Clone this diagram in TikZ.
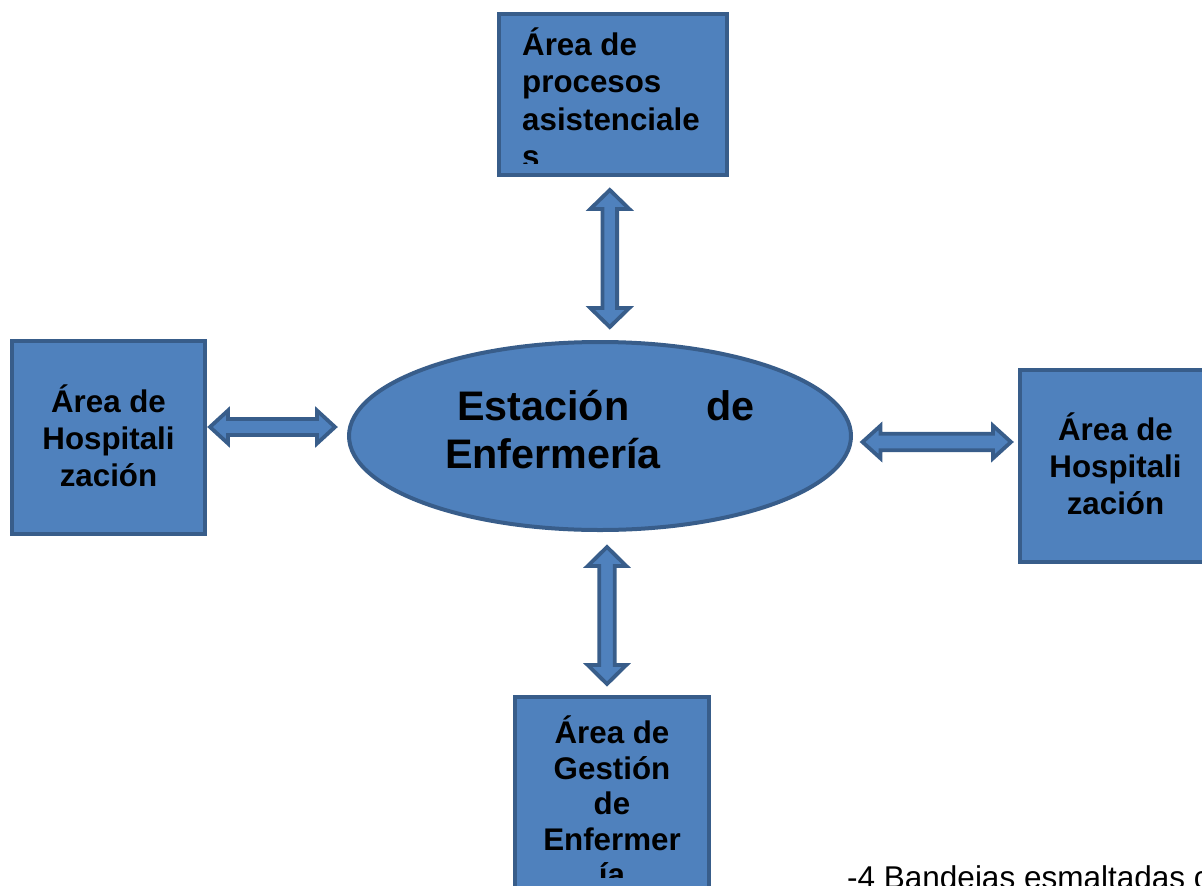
\documentclass[tikz,border=0pt]{standalone}
\usepackage{fontspec}
\setmainfont{Liberation Sans}
\usetikzlibrary{shapes.geometric,calc}
\definecolor{boxfill}{HTML}{4F81BD}
\definecolor{boxline}{HTML}{385D8A}
\newcommand\mylines[2]{\vtop{\baselineskip=#1\lineskiplimit=-100pt\lineskip=0pt\halign{\hfil##\hfil\cr #2\crcr}}}
\newcommand\mylinesL[2]{\vtop{\baselineskip=#1\lineskiplimit=-100pt\lineskip=0pt\halign{##\hfil\cr #2\crcr}}}
\tikzset{
  areabox/.style={draw=boxline, fill=boxfill, line width=4pt, rectangle, inner sep=0pt},
  centre/.style={draw=boxline, fill=boxfill, line width=4pt, ellipse, inner sep=0pt,
    minimum width=502pt, minimum height=188pt},
  barrow/.style={draw=boxline, fill=boxfill, line width=3.8pt, line join=miter},
  boxtext/.style={inner sep=0pt, anchor=base, font=\bfseries\fontsize{31.3}{37}\selectfont},
  bigtext/.style={inner sep=0pt, font=\bfseries\fontsize{41.3}{48}\selectfont},
  note/.style={inner sep=0pt, anchor=base west, font=\fontsize{31.5}{36}\selectfont}
}
\begin{document}
\begin{tikzpicture}[x=1pt,y=-1pt]
\useasboundingbox (0,0) rectangle (1202,886);
\clip (0,0) rectangle (1202,886);
% boxes
\node[areabox, minimum width=228pt, minimum height=161pt] (top) at (613,94.5) {};
\node[areabox, minimum width=193pt, minimum height=193pt] (left) at (108.5,437.5) {};
\node[areabox, minimum width=190pt, minimum height=192.5pt] (right) at (1114.5,466) {};
\node[areabox, minimum width=194pt, minimum height=200pt] (bottom) at (612,797) {};
\node[centre] (centre) at (600,436) {};
% texts
\begin{scope}
\clip (499,14) rectangle (727,163);
\node[boxtext, anchor=base west] (toptext) at (522,55)
  {\mylinesL{37.5pt}{Área de\cr procesos\cr asistenciale\cr s}};
\end{scope}
\node[boxtext] (lefttext) at (108.5,412)
  {\mylines{37.3pt}{Área de\cr Hospitali\cr zación}};
\node[boxtext] (righttext) at (1115.5,440)
  {\mylines{37pt}{Área de\cr Hospitali\cr zación}};
\begin{scope}
\clip (515,697) rectangle (709,877);
\node[boxtext] (bottomtext) at (612,743.5)
  {\mylines{35.5pt}{Área de\cr Gestión\cr de\cr Enfermer\cr ía}};
\end{scope}
\node[bigtext, anchor=base west] (c1) at (457,420) {Estación};
\node[bigtext, anchor=base east] (c2) at (755,420) {de};
\node[bigtext, anchor=base west] (c3) at (445,468) {Enfermería};
\node[note] (notetext) at (847,888.5) {-4 Bandejas esmaltadas c};
% arrow end points
\coordinate (a1) at (609.8,190);  \coordinate (a2) at (609.8,327);
\coordinate (b1) at (607,547);    \coordinate (b2) at (607,684);
\coordinate (l1) at (210,427);    \coordinate (l2) at (335,427);
\coordinate (r1) at (862.5,442);  \coordinate (r2) at (1011,442);
% vertical arrows
\draw[barrow] (a1) -- ($(a1)+(19.5,19)$) -- ($(a1)+(7.3,19)$) -- ($(a2)+(7.3,-19)$)
  -- ($(a2)+(19.5,-19)$) -- (a2) -- ($(a2)+(-19.5,-19)$) -- ($(a2)+(-7.3,-19)$)
  -- ($(a1)+(-7.3,19)$) -- ($(a1)+(-19.5,19)$) -- cycle;
\draw[barrow] (b1) -- ($(b1)+(19.3,19)$) -- ($(b1)+(7.8,19)$) -- ($(b2)+(7.8,-19)$)
  -- ($(b2)+(19.3,-19)$) -- (b2) -- ($(b2)+(-19.3,-19)$) -- ($(b2)+(-7.8,-19)$)
  -- ($(b1)+(-7.8,19)$) -- ($(b1)+(-19.3,19)$) -- cycle;
% horizontal arrows
\draw[barrow] (l1) -- ($(l1)+(18,-16.5)$) -- ($(l1)+(18,-8)$) -- ($(l2)+(-18,-8)$)
  -- ($(l2)+(-18,-16.5)$) -- (l2) -- ($(l2)+(-18,16.5)$) -- ($(l2)+(-18,8)$)
  -- ($(l1)+(18,8)$) -- ($(l1)+(18,16.5)$) -- cycle;
\draw[barrow] (r1) -- ($(r1)+(18,-16.3)$) -- ($(r1)+(18,-8.3)$) -- ($(r2)+(-18,-8.3)$)
  -- ($(r2)+(-18,-16.3)$) -- (r2) -- ($(r2)+(-18,16.3)$) -- ($(r2)+(-18,8.3)$)
  -- ($(r1)+(18,8.3)$) -- ($(r1)+(18,16.3)$) -- cycle;
\end{tikzpicture}
\end{document}
